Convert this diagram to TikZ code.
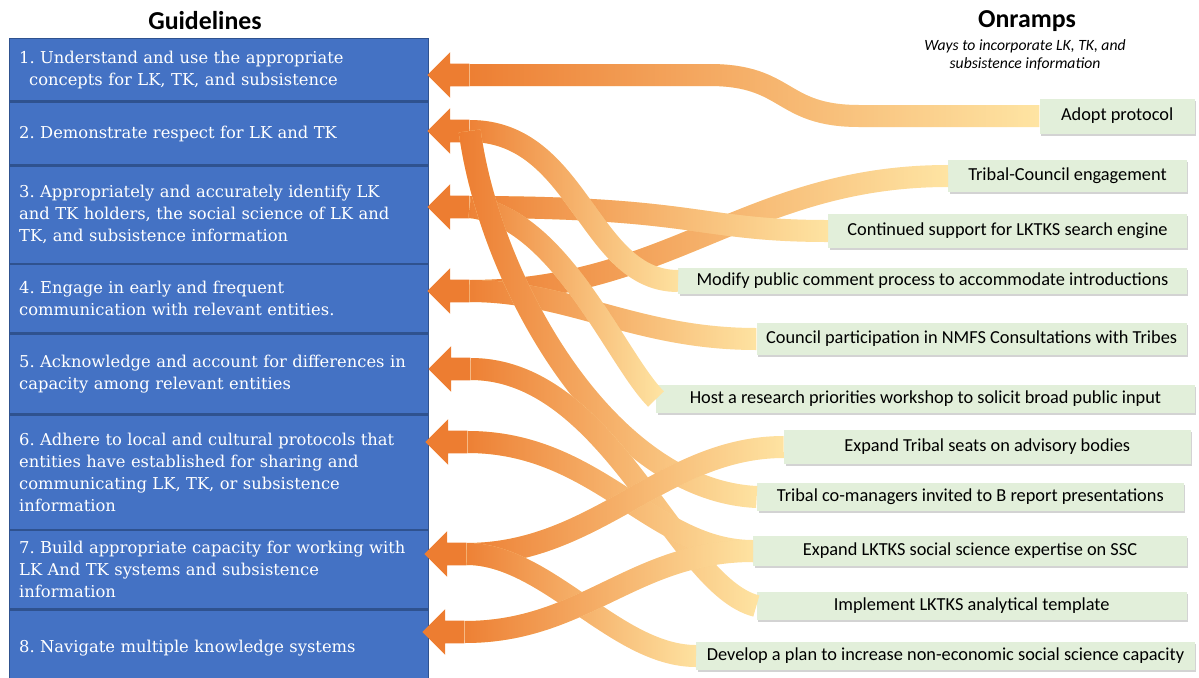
\documentclass[tikz,border=0pt]{standalone}
\usepackage{fontspec}
\setmainfont{DejaVu Serif}
\newfontfamily\rampfont{Carlito}
\usetikzlibrary{shapes.arrows, positioning, fadings, shadows}
\definecolor{gblue}{HTML}{4472C4}
\definecolor{gedge}{HTML}{2F528F}
\definecolor{rgreen}{HTML}{E2EFDA}
\definecolor{borange}{HTML}{ED7D31}
\definecolor{bpale}{HTML}{FFE7A6}
\tikzfading[name=bandfade, left color=transparent!0, middle color=transparent!25, right color=transparent!100]
\tikzstyle{guide} = [rectangle, fill=gblue, draw=gedge, line width=0.8pt, text=white, text width=240pt, align=left, inner xsep=5.4pt, minimum width=251.4pt, font=\frenchspacing\fontsize{9.8}{13.2}\selectfont]
\tikzstyle{ramp} = [rectangle, fill=rgreen, text=black, align=center, inner sep=2pt, font=\rampfont\fontsize{11}{12}\selectfont, drop shadow={opacity=0.35, shadow xshift=1pt, shadow yshift=-1.2pt}]
\tikzstyle{head} = [single arrow, shape border rotate=180, fill=borange, inner xsep=0pt, inner ysep=6.6pt, minimum height=25.2pt, single arrow head extend=6.9pt]
\tikzstyle{band} = [line width=13.2pt, draw=bpale, postaction={draw=borange, path fading=bandfade}]
\tikzstyle{heading} = [font=\rampfont\bfseries\fontsize{15.5}{18}\selectfont]

\begin{document}
\begin{tikzpicture}[x=0.6pt, y=-0.6pt, node distance=0pt]
  \useasboundingbox (0,0) rectangle (1199,677);
  % titles
  \node (gtitle) [heading] at (205,21) {Guidelines};
  \node (otitle) [heading] at (1027,21) {Onramps};
  \node (osub) [align=center, font=\rampfont\itshape\fontsize{9.4}{11}\selectfont] at (1025,55) {Ways to incorporate LK, TK, and\\subsistence information};
  % guidelines
  \node (g1) [guide, anchor=north west, minimum height=37.2pt] at (9,38) {1. Understand and use the appropriate\\\hspace*{6pt}concepts for LK, TK, and subsistence};
  \node (g2) [guide, below=of g1, minimum height=37.8pt] {2. Demonstrate respect for LK and TK};
  \node (g3) [guide, below=of g2, minimum height=58.2pt] {3. Appropriately and accurately identify LK\\and TK holders, the social science of LK and\\TK, and subsistence information};
  \node (g4) [guide, below=of g3, minimum height=40.8pt] {4. Engage in early and frequent\\communication with relevant entities.};
  \node (g5) [guide, below=of g4, minimum height=48pt] {5. Acknowledge and account for differences in\\capacity among relevant entities};
  \node (g6) [guide, below=of g5, minimum height=68.4pt] {6. Adhere to local and cultural protocols that\\entities have established for sharing and\\communicating LK, TK, or subsistence\\information};
  \node (g7) [guide, below=of g6, minimum height=46.8pt] {7. Build appropriate capacity for working with\\LK And TK systems and subsistence\\information};
  \node (g8) [guide, below=of g7, minimum height=46.2pt] {8. Navigate multiple knowledge systems};
  % onramps
  \node (adopt) [ramp, anchor=east, minimum width=93pt, minimum height=21pt] at (1195,116) {Adopt protocol};
  \node (council) [ramp, anchor=east, minimum width=143pt, minimum height=19pt] at (1187,176) {Tribal-Council engagement};
  \node (search) [ramp, anchor=east, minimum width=215pt, minimum height=20pt] at (1187,231) {Continued support for LKTKS search engine};
  \node (modify) [ramp, anchor=east, minimum width=305pt, minimum height=15.6pt] at (1187,281) {Modify public comment process to accommodate introductions};
  \node (nmfs) [ramp, anchor=east, minimum width=258pt, minimum height=19pt] at (1187,339) {Council participation in NMFS Consultations with Tribes};
  \node (workshop) [ramp, anchor=east, minimum width=323pt, minimum height=17pt] at (1195,399) {Host a research priorities workshop to solicit broad public input};
  \node (seats) [ramp, anchor=east, minimum width=244pt, minimum height=20pt] at (1191,447) {Expand Tribal seats on advisory bodies};
  \node (comanagers) [ramp, anchor=east, minimum width=256pt, minimum height=16.5pt] at (1184,497) {Tribal co-managers invited to B report presentations};
  \node (expertise) [ramp, anchor=east, minimum width=260pt, minimum height=18.5pt] at (1187,551) {Expand LKTKS social science expertise on SSC};
  \node (template) [ramp, anchor=east, minimum width=258pt, minimum height=17pt] at (1187,606) {Implement LKTKS analytical template};
  \node (plan) [ramp, anchor=east, minimum width=299pt, minimum height=17pt] at (1195,656) {Develop a plan to increase non-economic social science capacity};
  % arrow heads
  \node (h1) [head] at (454,75) {};
  \node (h2) [head] at (454,131) {};
  \node (h3) [head] at (454,207) {};
  \node (h4) [head] at (454,291) {};
  \node (h5) [head] at (455,369) {};
  \node (h6) [head] at (452,442) {};
  \node (h7) [head] at (451,554) {};
  \node (h8) [head] at (449,632) {};
  % bands
  \draw [band] (adopt.west) -- ++(-180,0) .. controls +(-80,0) and +(80,0) .. ++(-150,-41) -- (h1.tail);
  \draw [band] (council.west) .. controls +(-200,0) and +(200,0) .. (h4.tail);
  \draw [band] (search.west) .. controls +(-130,0) and +(230,0) .. (h3.tail);
  \draw [band] (nmfs.west) .. controls +(-120,0) and +(100,0) .. (h4.tail);
  \draw [band] (workshop.west) .. controls +(-40,-40) and +(90,10) .. (h3.tail);
  \draw [band] (modify.west) .. controls +(-90,0) and +(110,0) .. (h2.tail);
  \draw [band] (comanagers.west) .. controls +(-150,-7) and +(20,150) .. (h2.tail);
  \draw [band] (template.west) .. controls +(-80,-20) and +(140,0) .. (h5.tail);
  \draw [band] (expertise.west) .. controls +(-100,0) and +(130,0) .. (h6.tail);
  \draw [band] (seats.west) .. controls +(-120,0) and +(130,0) .. (h7.tail);
  \draw [band] (plan.west) .. controls +(-80,0) and +(80,0) .. (h7.tail);
  \draw [band] (expertise.west) .. controls +(-120,0) and +(120,0) .. (h8.tail);
\end{tikzpicture}
\end{document}
